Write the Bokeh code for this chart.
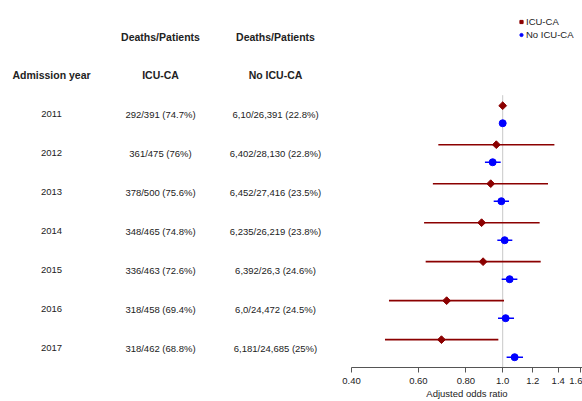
from bokeh.plotting import figure
from bokeh.models import Range1d, ColumnDataSource, FixedTicker, Legend, LegendItem
from bokeh.layouts import row
from bokeh.core.properties import value
from bokeh.embed import file_html
from bokeh.resources import INLINE
import math

# ---------------- data ----------------
years = ["2011", "2012", "2013", "2014", "2015", "2016", "2017"]
icu_counts = ["292/391 (74.7%)", "361/475 (76%)", "378/500 (75.6%)", "348/465 (74.8%)",
              "336/463 (72.6%)", "318/458 (69.4%)", "318/462 (68.8%)"]
noicu_counts = ["6,10/26,391 (22.8%)", "6,402/28,130 (22.8%)", "6,452/27,416 (23.5%)",
                "6,235/26,219 (23.8%)", "6,392/26,3 (24.6%)", "6,0/24,472 (24.5%)",
                "6,181/24,685 (25%)"]
icu_or = [1.0, 0.962, 0.930, 0.880, 0.888, 0.712, 0.690]
icu_lo = [1.0, 0.677, 0.655, 0.621, 0.627, 0.502, 0.490]
icu_hi = [1.0, 1.368, 1.316, 1.251, 1.259, 1.008, 0.974]
noicu_or = [1.0, 0.941, 0.992, 1.012, 1.043, 1.018, 1.075]
noicu_lo = [1.0, 0.898, 0.947, 0.968, 0.994, 0.972, 1.024]
noicu_hi = [1.0, 0.988, 1.039, 1.060, 1.093, 1.071, 1.131]
x_ticks = [0.4, 0.6, 0.8, 1.0, 1.2, 1.4, 1.6]
x_tick_labels = ["0.40", "0.60", "0.80", "1.0", "1.2", "1.4", "1.6"]
col_headers_top = ["Deaths/Patients", "Deaths/Patients"]
col_headers = ["Admission year", "ICU-CA", "No ICU-CA"]
x_title = "Adjusted odds ratio"

FONT = "Liberation Sans"
DARKRED = "#8B0000"
BLUE = "#0000FF"
TXT = "#222222"

idx = list(range(len(years)))
y_icu = [i for i in idx]
y_no = [i + 0.45 for i in idx]
y_txt = [i + 0.225 for i in idx]

y_range = Range1d(start=6.714, end=-2.698)

H = 401
BOTTOM = 33
LEFT_W = 336
PAD_L = 15

# ---------------- left table figure ----------------
left = figure(width=LEFT_W, height=H, x_range=Range1d(0, LEFT_W), y_range=y_range,
              output_backend="svg", toolbar_location=None,
              x_axis_location=None, y_axis_location=None,
              min_border_left=0, min_border_right=0, min_border_top=0,
              min_border_bottom=BOTTOM)
left.grid.visible = False
left.outline_line_color = None

col_x = [51, 160, 275]

src_tab = ColumnDataSource(dict(
    y=y_txt, years=years, icu=icu_counts, noicu=noicu_counts,
    x0=[col_x[0]] * len(years), x1=[col_x[1]] * len(years), x2=[col_x[2]] * len(years)))

common = dict(text_align="center", text_baseline="middle",
              text_font=value(FONT), text_font_size="9.5px", text_color=TXT)
left.text(x="x0", y="y", text="years", source=src_tab, **common)
left.text(x="x1", y="y", text="icu", source=src_tab, **common)
left.text(x="x2", y="y", text="noicu", source=src_tab, **common)

hdr = dict(text_align="center", text_baseline="middle", text_font=value(FONT),
           text_font_size="10.5px", text_font_style="bold", text_color=TXT)
left.text(x=col_x[1:], y=[-1.76, -1.76], text=col_headers_top, **hdr)
left.text(x=col_x, y=[-0.78] * 3, text=col_headers, **hdr)

# ---------------- forest plot figure ----------------
right = figure(width=582 - LEFT_W, height=H, x_axis_type="log",
               x_range=Range1d(0.4, 1.622), y_range=y_range,
               output_backend="svg", toolbar_location=None,
               y_axis_location=None,
               min_border_left=PAD_L, min_border_right=0, min_border_top=0,
               min_border_bottom=BOTTOM)
right.grid.visible = False
right.outline_line_color = None

# reference line at OR = 1
right.segment(x0=[1.0], y0=[-0.27], x1=[1.0], y1=[6.714], line_color="#c8c8c8", line_width=1)

src_icu = ColumnDataSource(dict(y=y_icu, orr=icu_or, lo=icu_lo, hi=icu_hi))
src_no = ColumnDataSource(dict(y=y_no, orr=noicu_or, lo=noicu_lo, hi=noicu_hi))

right.segment(x0="lo", y0="y", x1="hi", y1="y", source=src_icu, line_color=DARKRED, line_width=1.6)
right.segment(x0="lo", y0="y", x1="hi", y1="y", source=src_no, line_color=BLUE, line_width=1.6)
r_icu = right.scatter(x="orr", y="y", source=src_icu, marker="square", size=5.5,
                      angle=math.pi / 4, fill_color=DARKRED, line_color=DARKRED)
r_no = right.scatter(x="orr", y="y", source=src_no, marker="circle", size=7,
                     fill_color=BLUE, line_color=BLUE)

ax = right.xaxis[0]
ax.ticker = FixedTicker(ticks=x_ticks)
ax.major_label_overrides = {t: l for t, l in zip(x_ticks, x_tick_labels)}
ax.minor_tick_line_color = None
ax.major_tick_out = 5
ax.major_tick_in = 0
ax.axis_line_color = "#555555"
ax.major_tick_line_color = "#555555"
ax.major_label_text_font = FONT
ax.major_label_text_font_size = "9.5px"
ax.major_label_text_color = TXT
ax.major_label_standoff = 5
ax.axis_label = x_title
ax.axis_label_text_font = FONT
ax.axis_label_text_font_size = "9.5px"
ax.axis_label_text_font_style = "normal"
ax.axis_label_text_color = TXT
ax.axis_label_standoff = 1

legend = Legend(items=[LegendItem(label="ICU-CA", renderers=[r_icu]),
                       LegendItem(label="No ICU-CA", renderers=[r_no])],
                location=(166, 326), orientation="vertical",
                glyph_width=8, glyph_height=13, label_height=13, spacing=0,
                padding=0, margin=0, label_standoff=1,
                label_text_font=FONT, label_text_font_size="9.5px", label_text_color=TXT,
                border_line_color=None, background_fill_alpha=0)
right.add_layout(legend)

layout = row(left, right)
open("out.html", "w").write(file_html(layout, INLINE))
